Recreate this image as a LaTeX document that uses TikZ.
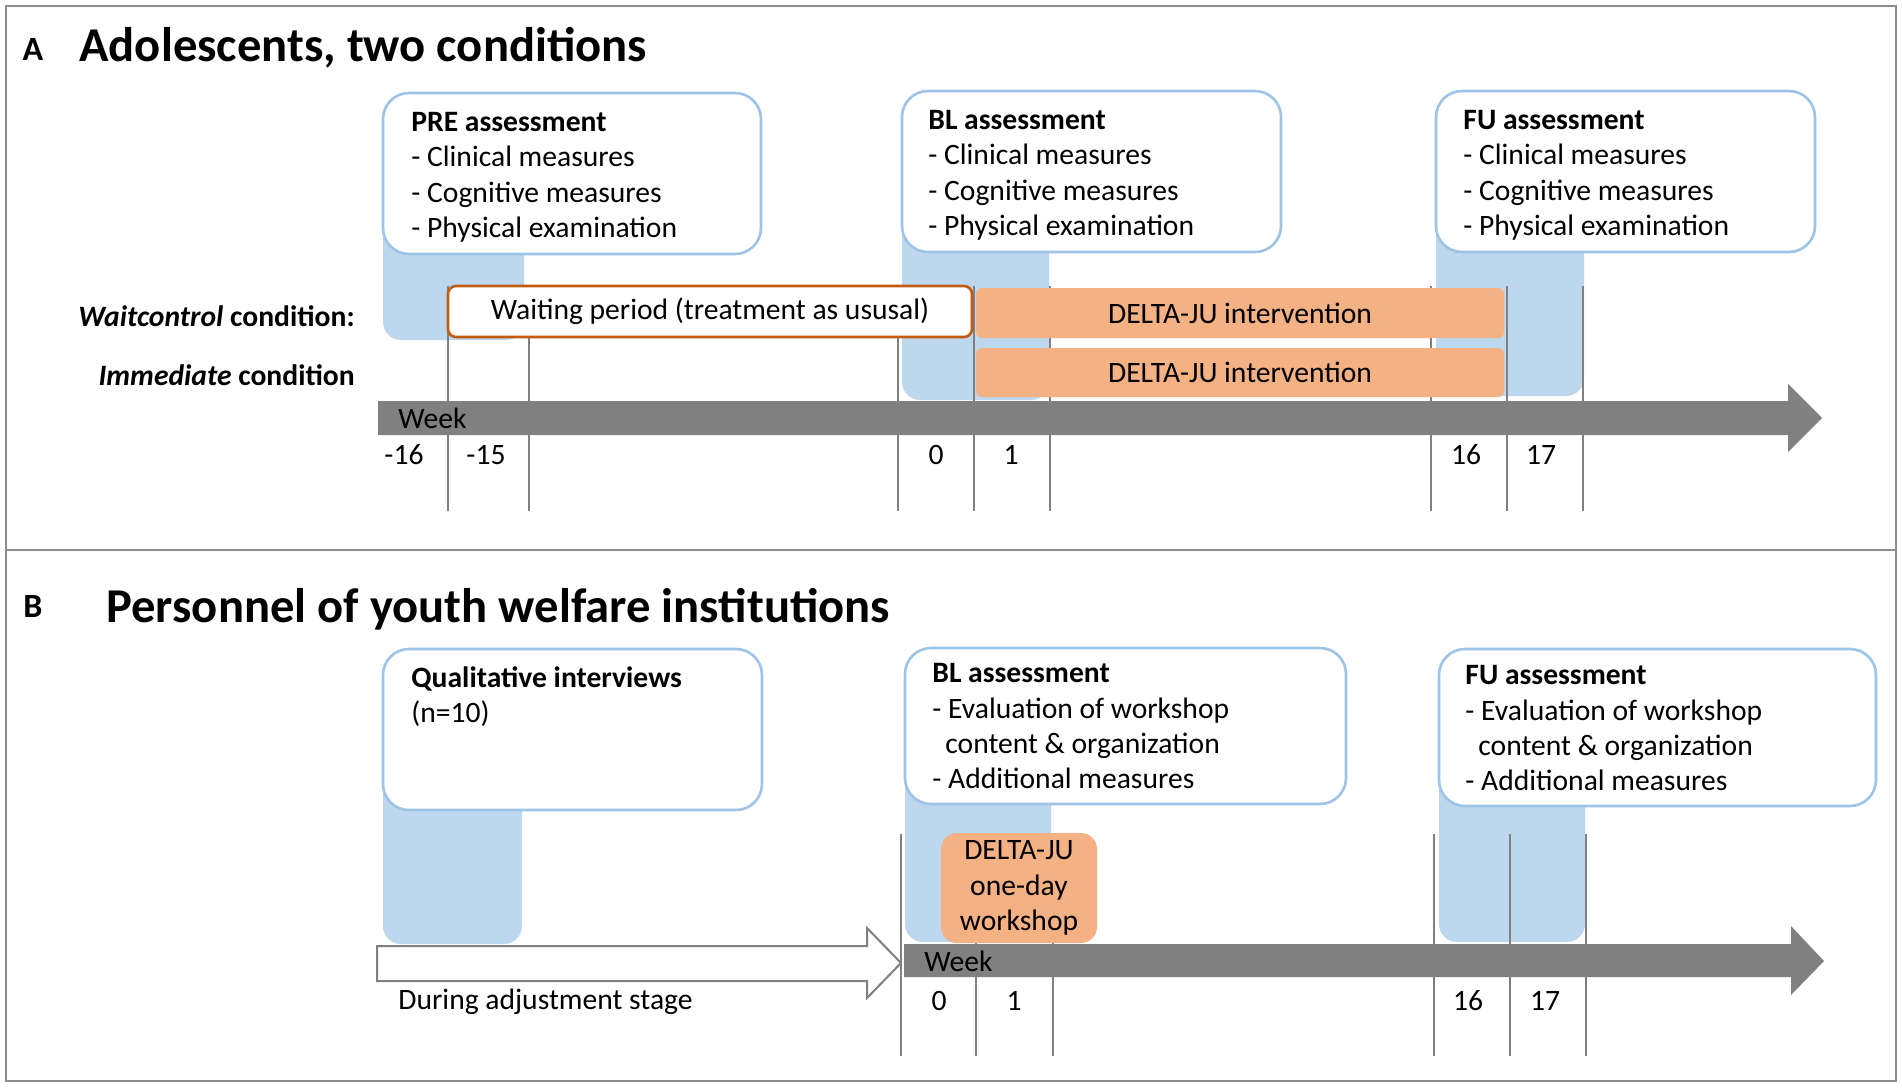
\documentclass[tikz,border=0pt]{standalone}
\usepackage{fontspec}
\setmainfont{Carlito}
\usetikzlibrary{positioning}
\definecolor{bandBlue}{HTML}{BDD7EE}
\definecolor{boxBlue}{HTML}{9DC3E6}
\definecolor{interOrange}{HTML}{F4B183}
\definecolor{waitOrange}{HTML}{C55A11}
\definecolor{barGray}{HTML}{808080}
\definecolor{frameGray}{HTML}{8C8C8C}
\newcommand{\bodysize}{\fontsize{14.8pt}{17.7pt}\selectfont}
\newcommand{\titlesize}{\fontsize{24.3pt}{29pt}\selectfont\bfseries}
\tikzset{
  every node/.style={font=\bodysize, inner sep=0pt},
  frame/.style={draw=frameGray, line width=1.3pt},
  band/.style={fill=bandBlue, rounded corners=9pt},
  assess/.style={draw=boxBlue, line width=1.3pt, fill=white, rounded corners=13pt},
  boxtext/.style={anchor=north west, align=left},
  waitbox/.style={draw=waitOrange, line width=1.3pt, fill=white, rounded corners=4pt},
  interbox/.style={fill=interOrange, rounded corners=3pt},
  weekline/.style={draw=barGray, line width=0.9pt},
  timebar/.style={fill=barGray},
  panel/.style={font=\fontsize{17pt}{20pt}\selectfont\bfseries},
  paneltitle/.style={font=\titlesize, anchor=base west}
}

\begin{document}
\begin{tikzpicture}[x=0.5pt,y=-0.5pt]
\useasboundingbox (0,0) rectangle (1902,1088);
\draw[frame] (6,6) rectangle (1896,1081);
\draw[frame] (6,550) -- (1896,550);

% A: adolescents
\node[panel] (labA) at (33,49) {A};
\node[paneltitle] (titleA) at (79,61) {Adolescents, two conditions};

\fill[band] (383,150) rectangle (524,340);
\fill[band] (902,150) rectangle (1049,400);
\fill[band] (1436,150) rectangle (1584,396);

\draw[weekline] (448,286) -- (448,511) (529,286) -- (529,511)
  (898,286) -- (898,511) (974,286) -- (974,511) (1050,286) -- (1050,511)
  (1431,286) -- (1431,511) (1507,286) -- (1507,511) (1583,286) -- (1583,511);

\draw[assess] (383,93) rectangle (761,254);
\draw[assess] (902,91) rectangle (1281,252);
\draw[assess] (1436,91) rectangle (1815,252);
\node[boxtext] (preText) at (411,112) {\textbf{PRE assessment}\\- Clinical measures\\- Cognitive measures\\- Physical examination};
\node[boxtext] (blTextA) at (928,110) {\textbf{BL assessment}\\- Clinical measures\\- Cognitive measures\\- Physical examination};
\node[boxtext] (fuTextA) at (1463,110) {\textbf{FU assessment}\\- Clinical measures\\- Cognitive measures\\- Physical examination};

\node[anchor=east] (waitLbl) at (355,316) {\textbf{\textit{Waitcontrol} condition:}};
\node[anchor=east] (immLbl) at (355,375) {\textbf{\textit{Immediate} condition}};

\node[waitbox, minimum width=262pt, minimum height=25.5pt] (waitBox) at (710,311.5) {Waiting period (treatment as ususal)};
\node[interbox, minimum width=264pt, minimum height=25pt] (deltaWait) at (1240,313) {DELTA-JU intervention};
\node[interbox, minimum width=264pt, minimum height=24.5pt] (deltaImm) at (1240,372.5) {DELTA-JU intervention};

\fill[timebar] (378,401) -- (1788,401) -- (1788,384) -- (1822,418) -- (1788,452) -- (1788,435) -- (378,435) -- cycle;
\node[anchor=west] (weekA) at (398,418) {Week};
\node (wAm16) at (404,455) {-16};
\node (wAm15) at (486,455) {-15};
\node (wA0) at (936,455) {0};
\node (wA1) at (1011,455) {1};
\node (wA16) at (1466,455) {16};
\node (wA17) at (1541,455) {17};

% B: personnel
\node[panel] (labB) at (33,606) {B};
\node[paneltitle] (titleB) at (106,622) {Personnel of youth welfare institutions};

\fill[band] (383,700) rectangle (522,944);
\fill[band] (905,700) rectangle (1051,942);
\fill[band] (1439,700) rectangle (1585,942);

\draw[weekline] (901,834) -- (901,1056) (976,834) -- (976,1056) (1053,834) -- (1053,1056)
  (1434,834) -- (1434,1056) (1510,834) -- (1510,1056) (1586,834) -- (1586,1056);

\draw[assess] (383,649) rectangle (762,810);
\draw[assess] (905,648) rectangle (1346,804);
\draw[assess] (1439,649) rectangle (1876,806);
\node[boxtext] (qualText) at (411,666) {\textbf{Qualitative interviews}\\(n=10)};
\node[boxtext] (blTextB) at (932,663) {\textbf{BL assessment}\\- Evaluation of workshop\\\hspace*{6.5pt}content \& organization\\- Additional measures};
\node[boxtext] (fuTextB) at (1465,665) {\textbf{FU assessment}\\- Evaluation of workshop\\\hspace*{6.5pt}content \& organization\\- Additional measures};

\node[interbox, rounded corners=8pt, minimum width=78pt, minimum height=55pt, align=center] (workshop) at (1019,888) {DELTA-JU\\one-day\\workshop};

\filldraw[draw=barGray, fill=white, line width=1pt] (377,946) -- (867,946) -- (867,928) -- (901,963) -- (867,998) -- (867,981) -- (377,981) -- cycle;
\fill[timebar] (904,944) -- (1791,944) -- (1791,926) -- (1824,961) -- (1791,995) -- (1791,977) -- (904,977) -- cycle;
\node[anchor=west] (adjust) at (398,1002) {During adjustment stage};
\node[anchor=west] (weekB) at (924,961) {Week};
\node (wB0) at (939,1001) {0};
\node (wB1) at (1014,1001) {1};
\node (wB16) at (1468,1001) {16};
\node (wB17) at (1545,1001) {17};
\end{tikzpicture}
\end{document}
